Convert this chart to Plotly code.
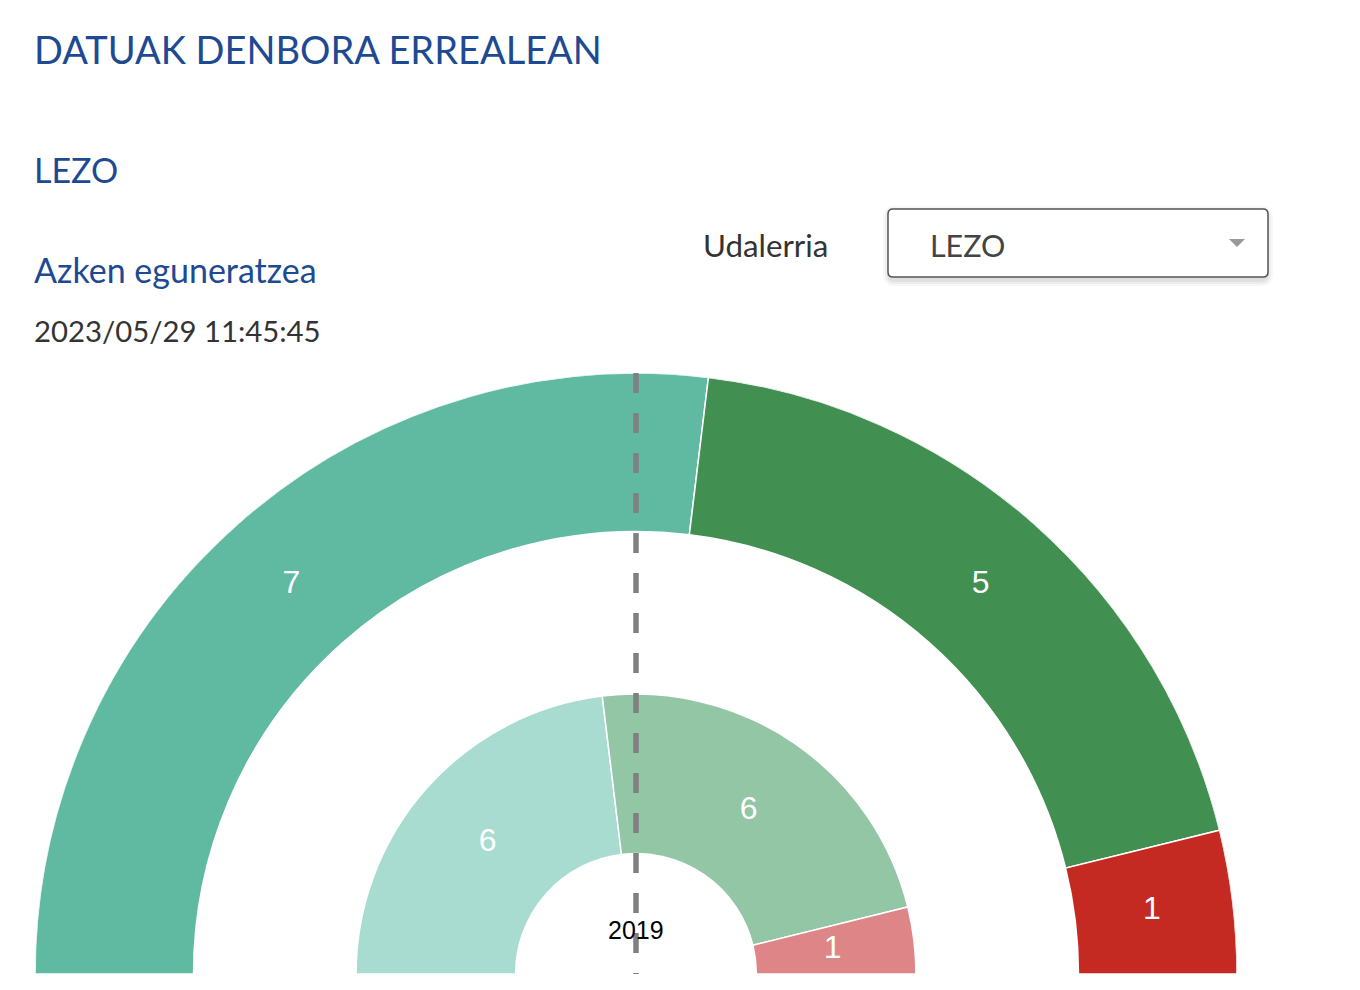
import plotly.graph_objects as go
import numpy as np

# ---- data ----
outer_values = [7, 5, 1]
outer_colors = ["#60BAA2", "#418F51", "#C52A22"]
inner_values = [6, 6, 1]
inner_colors = ["#A8DCD0", "#92C6A5", "#DE8587"]
inner_year = "2019"
title_text = "DATUAK DENBORA ERREALEAN"
town = "LEZO"
update_label = "Azken eguneratzea"
update_time = "2023/05/29 11:45:45"
select_label = "Udalerria"

W, H = 1360, 990
OFF = 8  # page body margin
R_MAX = 599
OUT_BASE, OUT_TOP = 441, 599
IN_BASE, IN_TOP = 120, 279


def ring(values):
    v = np.array(values, dtype=float)
    span = v / v.sum() * 180.0
    start = 180.0 - np.concatenate([[0], np.cumsum(span)[:-1]])
    centers = start - span / 2
    return centers, span


fig = go.Figure()

oc, ow = ring(outer_values)
ic, iw = ring(inner_values)

fig.add_trace(go.Barpolar(
    theta=oc, width=ow, r=[OUT_TOP - OUT_BASE] * len(outer_values), base=OUT_BASE,
    marker=dict(color=outer_colors, line=dict(color="white", width=1.5)),
    hoverinfo="skip", showlegend=False))
fig.add_trace(go.Barpolar(
    theta=ic, width=iw, r=[IN_TOP - IN_BASE] * len(inner_values), base=IN_BASE,
    marker=dict(color=inner_colors, line=dict(color="white", width=1.5)),
    hoverinfo="skip", showlegend=False))

fig.add_trace(go.Scatterpolar(
    theta=oc, r=[(OUT_BASE + OUT_TOP) / 2 - 2] * len(outer_values), mode="text",
    text=[str(v) for v in outer_values],
    textfont=dict(family="Liberation Sans, Arial", size=32, color="white"),
    hoverinfo="skip", showlegend=False))
fig.add_trace(go.Scatterpolar(
    theta=ic, r=[(IN_BASE + IN_TOP) / 2 - 2] * len(inner_values), mode="text",
    text=[str(v) for v in inner_values],
    textfont=dict(family="Liberation Sans, Arial", size=32, color="white"),
    hoverinfo="skip", showlegend=False))

# dashed reference line (from top down to centre)
fig.add_trace(go.Scatterpolar(
    theta=[90, 90], r=[R_MAX, 0], mode="lines",
    line=dict(color="#808080", width=5.5, dash="20px,20px"),
    hoverinfo="skip", showlegend=False))


def px(x):
    return (x - OFF) / W


def py(y):
    return 1 - (y - OFF) / H


cx, cy, RD = 636, 974, 601
fig.update_layout(
    width=W, height=H,
    margin=dict(l=0, r=0, t=0, b=0),
    paper_bgcolor="white", plot_bgcolor="white",
    polar=dict(
        domain=dict(x=[px(cx - RD), px(cx + RD)],
                    y=[py(cy), py(cy - RD)]),
        sector=[0, 180], hole=0, bgcolor="rgba(0,0,0,0)",
        radialaxis=dict(range=[0, R_MAX], visible=False, showgrid=False),
        angularaxis=dict(visible=False, showgrid=False, direction="counterclockwise", rotation=0),
        bargap=0,
    ),
)

blue = "#1D4A92"
anns = [
    dict(text=title_text, x=px(32), y=py(49), size=38, color=blue),
    dict(text=town, x=px(32), y=py(170), size=34, color=blue),
    dict(text=update_label, x=px(32), y=py(270), size=34, color=blue),
    dict(text=update_time, x=px(32), y=py(330), size=29.3, color="#333333"),
    dict(text=select_label, x=px(701), y=py(245), size=31.3, color="#333333"),
    dict(text=town, x=px(928), y=py(245), size=30.4, color="#444444"),
]
for a in anns:
    fig.add_annotation(text=a["text"], x=a["x"], y=a["y"], xref="paper", yref="paper",
                       xanchor="left", yanchor="middle", showarrow=False,
                       font=dict(family="Lato", size=a["size"], color=a["color"]))

fig.add_annotation(text=inner_year, x=px(cx), y=py(930), xref="paper", yref="paper",
                   xanchor="center", yanchor="middle", showarrow=False,
                   font=dict(family="Liberation Sans, Arial", size=25, color="black"))


# dropdown box with shadow
def rrect(x0, y0, x1, y1, r):
    X0, X1 = px(x0), px(x1)
    Y0, Y1 = py(y0), py(y1)
    rx, ry = r / W, r / H
    return (f"M{X0+rx},{Y0} L{X1-rx},{Y0} Q{X1},{Y0} {X1},{Y0-ry} "
            f"L{X1},{Y1+ry} Q{X1},{Y1} {X1-rx},{Y1} L{X0+rx},{Y1} "
            f"Q{X0},{Y1} {X0},{Y1+ry} L{X0},{Y0-ry} Q{X0},{Y0} {X0+rx},{Y0} Z")


for i, a in enumerate([0.05, 0.04, 0.03]):
    d = 2 + 2 * i
    fig.add_shape(type="path", xref="paper", yref="paper",
                  path=rrect(888 - d + 1, 209 - d + 3, 1268 + d - 1, 277 + d + 3, 6 + d),
                  fillcolor=f"rgba(0,0,0,{a})", line=dict(width=0))
fig.add_shape(type="path", xref="paper", yref="paper",
              path=rrect(888, 209, 1268, 277, 5),
              fillcolor="white", line=dict(color="#555555", width=1.5))
fig.add_shape(type="path", xref="paper", yref="paper",
              path=f"M{px(1229)},{py(239)} L{px(1245)},{py(239)} L{px(1237)},{py(247)} Z",
              fillcolor="#9a9a9a", line=dict(width=0))

fig.write_html("out.html")
